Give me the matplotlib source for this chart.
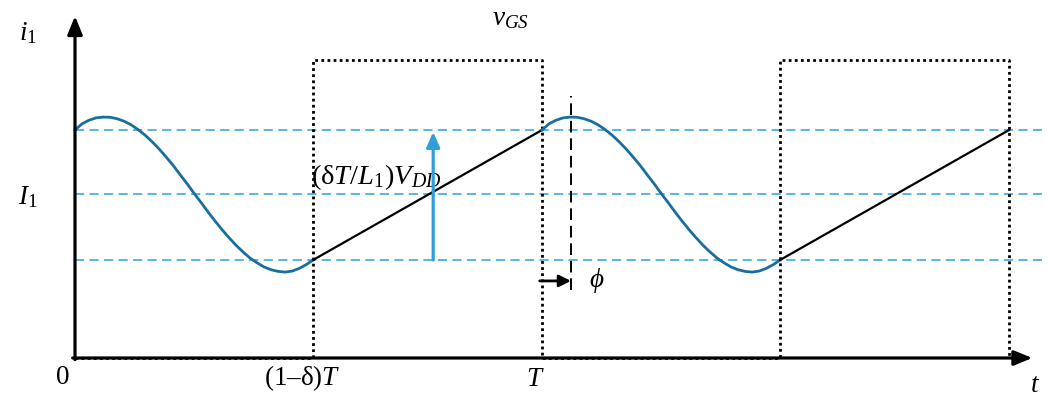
import matplotlib
matplotlib.use("Agg")
import matplotlib.pyplot as plt
import numpy as np

# ---- data (t in units of T, current in units of I1) ----
t_wave = [0.000, 0.015, 0.030, 0.045, 0.060, 0.075, 0.090, 0.105, 0.120, 0.135,
          0.150, 0.165, 0.180, 0.195, 0.210, 0.225, 0.240, 0.255, 0.270, 0.285,
          0.300, 0.315, 0.330, 0.345, 0.360, 0.375, 0.390, 0.405, 0.420, 0.435,
          0.450, 0.465, 0.480, 0.495, 0.510]
i_wave = [1.390, 1.428, 1.450, 1.464, 1.469, 1.468, 1.459, 1.444, 1.422, 1.393,
          1.359, 1.319, 1.275, 1.226, 1.175, 1.118, 1.063, 1.004, 0.948, 0.890,
          0.835, 0.782, 0.733, 0.687, 0.646, 0.609, 0.580, 0.555, 0.538, 0.528,
          0.524, 0.530, 0.546, 0.569, 0.598]
t_ramp = [0.51, 1.00]
i_ramp = [0.598, 1.390]
t_gate = [0.00, 0.51, 0.51, 1.00, 1.00, 1.51, 1.51, 2.00, 2.00]
v_gate = [0.00, 0.00, 1.817, 1.817, 0.00, 0.00, 1.817, 1.817, 0.00]
levels = [1.390, 1.000, 0.598]   # top, I1, bottom
phi_t = 1.062                    # peak after T

plt.rcParams['mathtext.fontset'] = 'custom'
plt.rcParams['mathtext.rm'] = 'Liberation Serif'
plt.rcParams['mathtext.it'] = 'Liberation Serif:italic'
plt.rcParams['font.family'] = 'Liberation Serif'

fig = plt.figure(figsize=(10.48, 3.98), dpi=100)
ax = fig.add_axes([0, 0, 1, 1])
ax.set_xlim(-75 / 467, 973 / 467)
ax.set_ylim(-40 / 164, 358 / 164)
ax.set_axis_off()

blue = '#1a6e9e'
light = '#2f9fdc'

# dashed reference levels
for lv in levels:
    ax.plot([0, 2.07], [lv, lv], color=light, lw=1.1, ls=(0, (6, 3.5)), zorder=2)

# gate drive (dotted)
ax.plot(t_gate, v_gate, color='black', lw=2.0, ls=(0, (1, 1.2)), zorder=3)

# current waveform, two periods
for k in range(2):
    ax.plot(np.array(t_wave) + k, i_wave, color=blue, lw=2.0, zorder=4,
            solid_joinstyle='round')
    ax.plot(np.array(t_ramp) + k, i_ramp, color='black', lw=1.6, zorder=4)

# axes arrows
ax.annotate('', xy=(0, 2.085), xytext=(0, -0.01),
            arrowprops=dict(arrowstyle='-|>,head_length=1.1,head_width=0.45',
                            lw=2.3, color='black', shrinkA=0, shrinkB=0), zorder=6)
ax.annotate('', xy=(2.05, 0), xytext=(-0.005, 0),
            arrowprops=dict(arrowstyle='-|>,head_length=1.1,head_width=0.45',
                            lw=2.3, color='black', shrinkA=0, shrinkB=0), zorder=6)

# ripple arrow
ax.annotate('', xy=(0.767, 1.378), xytext=(0.767, levels[2]),
            arrowprops=dict(arrowstyle='-|>,head_length=0.9,head_width=0.4',
                            lw=2.3, color=light, shrinkA=0, shrinkB=0), zorder=5)

# phase marker
ax.plot([phi_t, phi_t], [0.415, 1.60], color='black', lw=1.4, ls=(0, (6, 3)), zorder=5)
ax.annotate('', xy=(phi_t, 0.47), xytext=(0.995, 0.47),
            arrowprops=dict(arrowstyle='-|>,head_length=0.7,head_width=0.35',
                            lw=2.0, color='black', shrinkA=0, shrinkB=0), zorder=5)

# labels
fs = 19.5
ax.text(-0.10, 1.98, r'$i_1$', fontsize=fs, ha='center', va='center')
ax.text(-0.10, 0.98, r'$I_1$', fontsize=fs, ha='center', va='center')
ax.text(-0.028, -0.12, r'$0$', fontsize=fs, ha='center', va='center')
ax.text(0.487, -0.12, r'$(1\mathrm{–}\mathrm{\delta})T$', fontsize=fs, ha='center', va='center')
ax.text(0.986, -0.13, r'$T$', fontsize=fs, ha='center', va='center')
ax.text(2.055, -0.165, r'$t$', fontsize=fs, ha='center', va='center')
ax.text(0.932, 2.07, r'$v_{GS}$', fontsize=fs, ha='center', va='center')
ax.text(0.505, 1.10, r'$(\mathrm{\delta}T/L_1)V_{DD}$', fontsize=20.5, ha='left', va='center')
ax.text(1.117, 0.47, r'$\phi$', fontsize=fs, ha='center', va='center')

fig.savefig('out.png', dpi=100)
